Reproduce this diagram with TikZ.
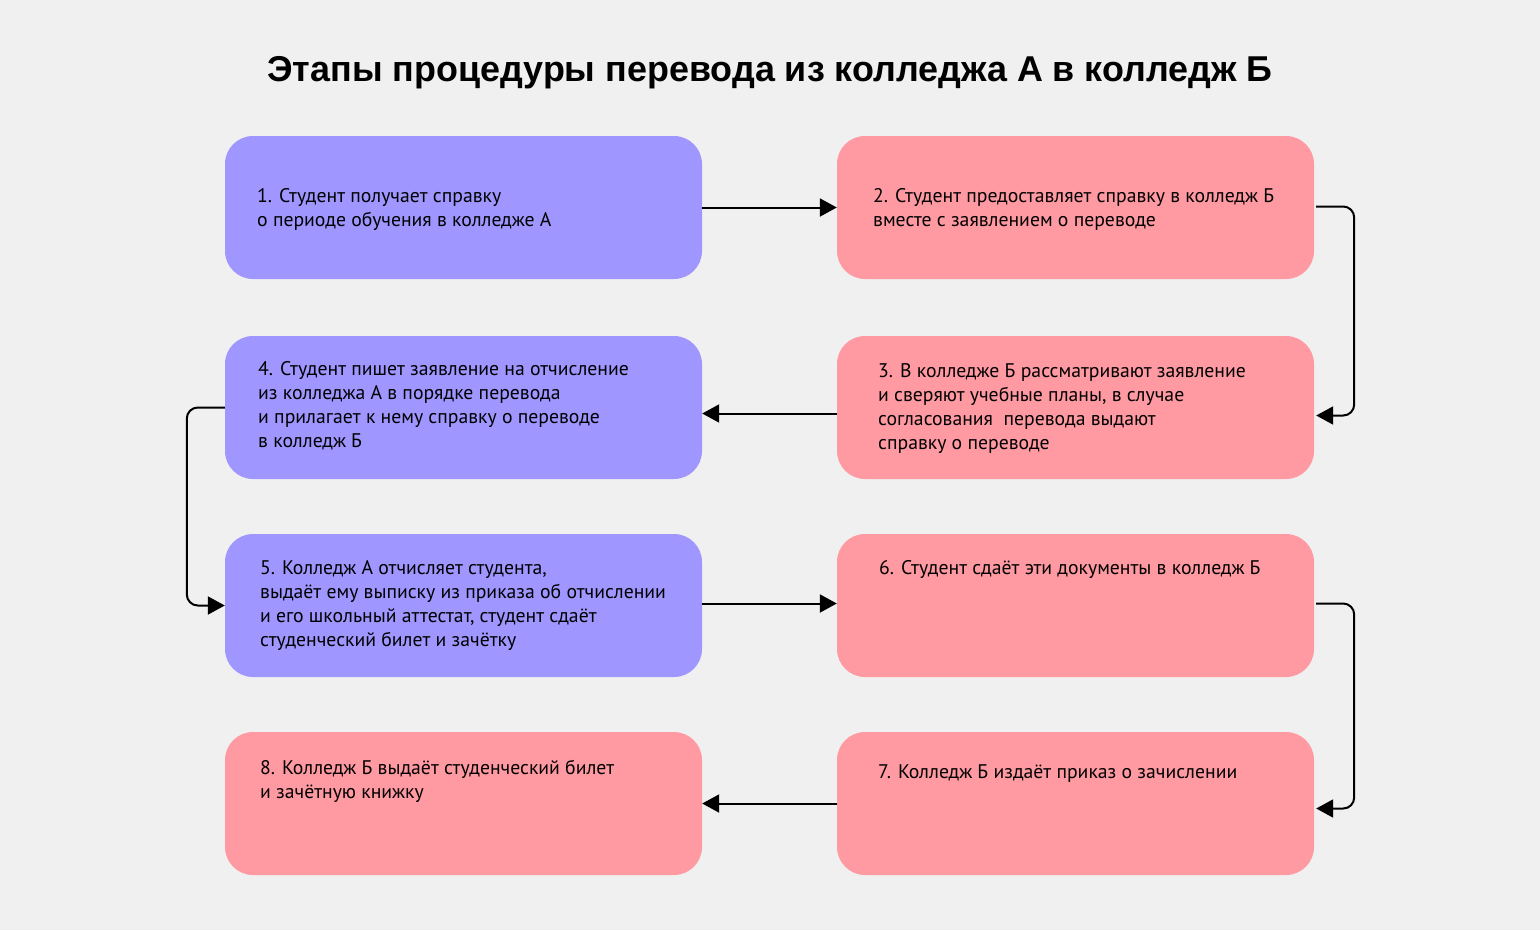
\documentclass[tikz,border=0pt]{standalone}
\usepackage{fontspec}
\setmainfont{PT Sans}
\newfontfamily\titlefont{Liberation Sans}
\usetikzlibrary{positioning,arrows.meta}
\definecolor{bgcol}{RGB}{240,240,240}
\definecolor{colA}{RGB}{159,150,255}
\definecolor{colB}{RGB}{255,153,162}
\tikzset{
  >={Triangle[length=17pt,width=18pt]},
  stage/.style={
    rectangle,
    rounded corners=28pt,
    draw=none,
    minimum width=477pt,
    minimum height=143pt,
    inner sep=0pt},
  stageA/.style={stage, fill=colA},
  stageB/.style={stage, fill=colB},
  stagetext/.style={
    anchor=base west,
    align=left,
    inner sep=0pt,
    font=\fontsize{19.7}{24}\selectfont},
  line/.style={draw, line width=2pt, ->, rounded corners=11pt},
}
\begin{document}
\begin{tikzpicture}[x=1pt, y=-1pt]
  \useasboundingbox[fill=bgcol] (0,0) rectangle (1540,930);
  \node[anchor=base, font=\titlefont\bfseries\fontsize{35.9}{40}\selectfont] (title) at (770,81)
    {Этапы процедуры перевода из колледжа А в колледж Б};

  % boxes
  \node[stageA] (s1) at (463.5,207.5) {};
  \node[stageB] (s2) at (1075.5,207.5) {};
  \node[stageB] (s3) at (1075.5,407.5) {};
  \node[stageA] (s4) at (463.5,407.5) {};
  \node[stageA] (s5) at (463.5,605.5) {};
  \node[stageB] (s6) at (1075.5,605.5) {};
  \node[stageB] (s7) at (1075.5,803.5) {};
  \node[stageB] (s8) at (463.5,803.5) {};

  % texts (base = last line)
  \node[stagetext] (t1) at (257,226) {1. Студент получает справку\\о периоде обучения в колледже А};
  \node[stagetext] (t2) at (873,226) {2. Студент предоставляет справку в колледж Б\\вместе с заявлением о переводе};
  \node[stagetext] (t3) at (878,449) {3. В колледже Б рассматривают заявление\\и сверяют учебные планы, в случае\\согласования \ перевода выдают\\справку о переводе};
  \node[stagetext] (t4) at (258,447) {4. Студент пишет заявление на отчисление\\из колледжа А в порядке перевода\\и прилагает к нему справку о переводе\\в колледж Б};
  \node[stagetext] (t5) at (260,646) {5. Колледж А отчисляет студента,\\выдаёт ему выписку из приказа об отчислении\\и его школьный аттестат, студент сдаёт\\студенческий билет и зачётку};
  \node[stagetext] (t6) at (879,574) {6. Студент сдаёт эти документы в колледж Б};
  \node[stagetext] (t7) at (878,778) {7. Колледж Б издаёт приказ о зачислении};
  \node[stagetext] (t8) at (260,798) {8. Колледж Б выдаёт студенческий билет\\и зачётную книжку};

  % connectors
  \path[line] (s1.east) -- (s2.west);
  \path[line] ([xshift=2pt,yshift=1pt]s2.east) -- ++(38,0) |- ([xshift=2pt,yshift=-8pt]s3.east);
  \path[line] ([yshift=-6pt]s3.west) -- ([yshift=-6pt]s4.east);
  \path[line] (s4.west) -- ++(-38,0) |- (s5.west);
  \path[line] ([yshift=2pt]s5.east) -- ([yshift=2pt]s6.west);
  \path[line] ([xshift=2pt,yshift=2pt]s6.east) -- ++(38,0) |- ([xshift=2pt,yshift=-5pt]s7.east);
  \path[line] (s7.west) -- (s8.east);
\end{tikzpicture}
\end{document}
